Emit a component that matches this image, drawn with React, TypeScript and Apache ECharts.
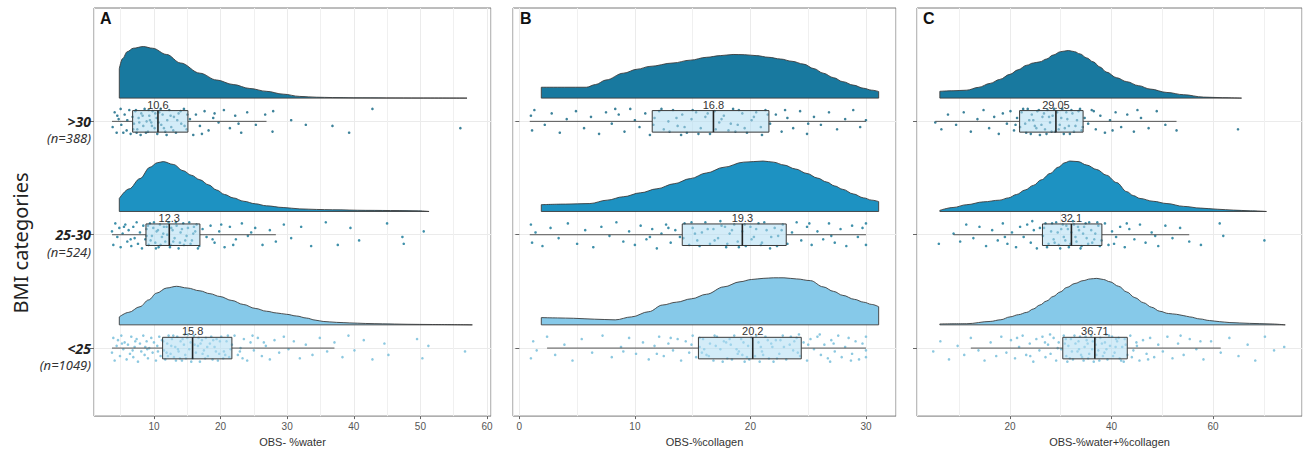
import React, { useEffect, useRef } from 'react';
import * as echarts from 'echarts';

// ---------- data ----------
const categories = ['<25', '25-30', '>30'];
const categoryY = [1, 2, 3];
const nLabels = ['(n=1049)', '(n=524)', '(n=388)'];
const panelLetters = ['A', 'B', 'C'];
const xTitles = ['OBS- %water', 'OBS-%collagen', 'OBS-%water+%collagen'];
const yTitle = 'BMI categories';

// [lower whisker, Q1, median, Q3, upper whisker]; order <25, 25-30, >30
const waterBox = [[3.7, 11.3, 15.8, 21.7, 37.1], [3.7, 8.8, 12.3, 16.9, 28.3], [3.7, 6.8, 10.6, 15.1, 26.9]];
const collagenBox = [[2.4, 15.5, 20.2, 24.4, 30.0], [0.9, 14.1, 19.3, 23.1, 30.0], [0.9, 11.5, 16.8, 21.6, 30.0]];
const sumBox = [[12.3, 30.4, 36.71, 43.1, 61.5], [8.9, 26.4, 32.1, 38.1, 55.3], [5.3, 21.9, 29.05, 34.4, 52.8]];

// density curves [x, scaled density]
const waterDens25 = [[4.8,0.07],[6.2,0.11],[7.9,0.16],[9.2,0.22],[10.4,0.28],[11.9,0.325],[13.4,0.34],[15.0,0.325],[16.9,0.3],[18.4,0.275],[19.9,0.25],[21.7,0.215],[23.4,0.18],[25.2,0.145],[26.9,0.12],[28.4,0.105],[29.9,0.093],[31.4,0.078],[32.9,0.06],[34.2,0.042],[35.4,0.03],[37.4,0.022],[39.4,0.017],[41.8,0.012],[44.3,0.009],[48.0,0.005],[51.8,0.003],[57.8,0.0]];
const waterDens2530 = [[4.8,0.115],[6.3,0.2],[7.9,0.29],[9.4,0.39],[10.5,0.43],[11.4,0.44],[12.9,0.415],[14.4,0.36],[15.6,0.32],[16.9,0.28],[18.2,0.235],[19.4,0.19],[20.6,0.15],[21.9,0.12],[23.5,0.09],[25.2,0.068],[26.9,0.05],[29.4,0.035],[31.9,0.023],[34.4,0.018],[36.8,0.015],[41.8,0.01],[46.8,0.008],[49.5,0.006],[51.3,0.0]];
const waterDens30 = [[4.8,0.26],[5.3,0.35],[6.0,0.41],[6.9,0.44],[8.4,0.455],[9.8,0.44],[11.9,0.385],[14.0,0.31],[16.9,0.22],[19.4,0.16],[21.9,0.12],[24.4,0.085],[26.9,0.06],[29.4,0.035],[31.9,0.015],[34.4,0.008],[36.8,0.005],[40.0,0.003],[44.9,0.002],[50.0,0.001],[57.0,0.0]];
const collagenDens25 = [[1.9,0.064],[3.3,0.061],[4.7,0.058],[6.5,0.05],[8.3,0.044],[9.7,0.07],[11.2,0.116],[12.4,0.175],[13.6,0.2],[14.9,0.23],[16.2,0.27],[17.7,0.335],[19.1,0.38],[20.1,0.4],[21.1,0.41],[22.0,0.415],[22.9,0.415],[24.0,0.405],[25.2,0.39],[26.3,0.335],[27.2,0.295],[28.0,0.26],[29.0,0.225],[29.8,0.2],[30.5,0.18],[31.1,0.16]];
const collagenDens2530 = [[1.9,0.06],[4.0,0.065],[6.1,0.07],[7.6,0.1],[9.0,0.13],[10.5,0.165],[11.9,0.2],[13.4,0.245],[14.8,0.29],[16.2,0.34],[17.7,0.39],[19.4,0.435],[21.1,0.445],[22.0,0.435],[22.9,0.41],[23.9,0.375],[24.9,0.335],[25.8,0.295],[26.6,0.26],[27.3,0.225],[28.0,0.195],[28.9,0.155],[29.8,0.12],[30.5,0.1],[31.1,0.087]];
const collagenDens30 = [[1.9,0.096],[3.9,0.096],[5.8,0.096],[6.6,0.12],[7.5,0.16],[9.0,0.22],[10.2,0.255],[11.3,0.28],[13.3,0.31],[14.8,0.335],[16.2,0.36],[17.4,0.375],[18.5,0.385],[19.5,0.383],[20.5,0.375],[21.6,0.36],[22.6,0.345],[23.6,0.325],[24.6,0.3],[25.5,0.26],[26.3,0.22],[27.2,0.18],[28.0,0.145],[28.9,0.115],[29.8,0.087],[30.5,0.07],[31.1,0.058]];
const sumDens25 = [[6.2,0.008],[11.5,0.01],[16.1,0.03],[18.2,0.045],[20.0,0.07],[21.7,0.09],[23.3,0.11],[24.6,0.14],[25.9,0.175],[27.2,0.21],[28.5,0.25],[29.9,0.29],[31.2,0.33],[32.8,0.365],[34.4,0.39],[35.8,0.405],[37.1,0.41],[38.4,0.4],[39.7,0.38],[41.4,0.34],[43.0,0.29],[44.6,0.24],[46.3,0.195],[47.9,0.155],[49.5,0.12],[51.2,0.1],[52.8,0.093],[54.1,0.082],[55.4,0.07],[57.4,0.052],[59.3,0.038],[61.3,0.028],[63.3,0.02],[67.2,0.013],[71.2,0.008],[74.2,0.0]];
const sumDens2530 = [[6.2,0.01],[8.8,0.035],[11.5,0.06],[14.8,0.085],[18.0,0.1],[19.7,0.12],[21.3,0.15],[23.0,0.19],[24.6,0.23],[26.2,0.28],[27.9,0.335],[29.5,0.39],[30.8,0.43],[31.8,0.445],[33.4,0.44],[35.1,0.41],[37.1,0.37],[39.0,0.32],[41.0,0.255],[43.0,0.175],[44.3,0.14],[45.6,0.115],[48.2,0.09],[50.9,0.07],[54.2,0.045],[57.5,0.03],[60.8,0.02],[64.0,0.012],[67.3,0.006],[70.5,0.0]];
const sumDens30 = [[6.2,0.06],[8.8,0.065],[11.5,0.07],[13.8,0.095],[16.1,0.13],[18.0,0.165],[20.0,0.21],[21.6,0.25],[23.3,0.29],[24.6,0.31],[25.9,0.32],[27.2,0.345],[28.5,0.38],[30.0,0.41],[31.5,0.42],[32.7,0.41],[33.8,0.39],[35.1,0.355],[36.4,0.32],[37.7,0.275],[39.0,0.23],[41.0,0.18],[43.0,0.145],[45.3,0.11],[47.6,0.08],[50.9,0.05],[54.2,0.03],[58.1,0.009],[61.8,0.004],[65.6,0.0]];

// jittered observations [x, vertical jitter in hundredths of a category step]
const waterPts25 = [[3.7,-4],[3.9,9],[4.1,-11],[4.4,2],[4.6,7],[4.9,-7],[5.1,11],[5.4,-1],[5.6,5],[5.9,-10],[6.1,3],[6.4,-5],[6.6,10],[6.9,-8],[7.1,1],[7.4,8],[7.6,-12],[7.9,4],[8.1,-3],[8.4,11],[8.6,-6],[8.9,6],[9.1,-9],[9.3,0],[9.6,9],[9.8,-4],[10.0,5],[10.3,-11],[10.5,2],[10.8,10],[11.0,-7],[11.2,7],[11.5,-2],[11.7,-10],[12.0,4],[12.2,11],[12.5,-5],[12.7,8],[13.0,-8],[13.2,1],[13.5,10],[13.7,-3],[14.0,6],[14.2,-11],[14.5,3],[14.7,-6],[15.0,9],[15.3,-1],[15.5,5],[15.8,-9],[16.0,11],[16.3,-4],[16.6,2],[16.9,-12],[17.2,7],[17.5,-2],[17.8,9],[18.1,-7],[18.4,4],[18.8,-10],[19.1,1],[19.4,8],[19.8,-5],[20.1,10],[20.5,-3],[20.9,6],[21.3,-8],[21.7,3],[22.1,11],[22.6,-6],[23.0,0],[23.5,8],[24.0,-11],[24.5,5],[25.0,-2],[25.6,9],[26.2,-7],[26.8,2],[27.4,-10],[28.1,7],[28.8,-4],[29.5,10],[30.2,-1],[31.0,6],[31.9,-9],[32.8,3],[33.8,-6],[34.9,9],[36.0,-3],[37.1,5],[38.3,-8],[39.2,11],[40.1,-2],[41.5,7],[42.8,-10],[44.6,4],[45.2,-6],[49.5,8],[50.3,-9],[51.2,2],[56.7,-3],[9.0,-1],[13.9,-9],[17.0,4],[11.9,-4],[19.6,-11],[15.1,12],[7.2,6],[22.9,-3],[11.4,6],[12.1,-7],[12.9,11],[13.6,-1],[14.3,8],[14.8,-9],[15.6,-12],[16.1,3],[16.7,9],[17.3,-5],[18.0,1],[18.6,10],[19.3,-3],[19.9,6],[20.4,-9],[21.1,11],[21.5,-1],[12.6,2],[13.3,-11],[14.6,12],[17.7,-9],[18.9,7],[20.7,-6],[10.6,-3],[23.3,-9],[24.8,11],[26.5,5],[8.7,1],[6.8,-2],[5.2,4]];
const waterPts2530 = [[3.7,3],[3.9,-9],[4.2,10],[4.5,-2],[4.8,6],[5.0,-11],[5.3,1],[5.7,9],[6.0,-6],[6.2,4],[6.6,-10],[6.9,7],[7.1,-3],[7.4,11],[7.6,-8],[7.9,2],[8.2,-12],[8.4,8],[8.7,-4],[8.9,5],[9.2,-9],[9.4,10],[9.7,-1],[9.9,6],[10.2,-7],[10.4,3],[10.7,-11],[10.9,9],[11.2,-2],[11.5,7],[11.7,-6],[12.0,0],[12.2,11],[12.5,-9],[12.8,4],[13.1,-3],[13.4,8],[13.7,-12],[14.0,2],[14.4,10],[14.7,-5],[15.1,6],[15.5,-8],[15.9,1],[16.4,9],[16.8,-10],[17.3,5],[17.9,-2],[18.5,8],[19.1,-7],[19.8,3],[20.6,-11],[21.4,7],[22.3,-4],[23.2,10],[24.1,-1],[25.2,6],[26.3,-9],[27.4,4],[28.3,-6],[29.5,9],[30.6,-3],[32.1,7],[33.6,-10],[35.8,11],[37.6,-9],[39.5,6],[40.8,-5],[45.0,10],[47.3,-2],[47.5,-8],[50.5,3],[8.9,-1],[9.5,-5],[10.0,11],[10.6,4],[11.0,-9],[11.4,1],[11.9,7],[12.4,-11],[12.9,-6],[13.3,11],[13.9,-7],[14.2,5],[14.9,-1],[15.3,11],[15.7,-5],[16.2,3],[16.6,-12],[9.1,8],[10.3,-12],[12.6,6],[14.5,-9],[16.0,7],[18.8,-4],[20.1,9],[6.5,-4],[5.5,7],[21.9,-9],[24.6,2]];
const waterPts30 = [[3.8,-5],[4.1,8],[4.4,-10],[4.7,2],[5.0,11],[5.1,-3],[5.6,6],[5.9,-8],[6.0,1],[6.3,10],[6.5,-11],[6.8,4],[7.0,-2],[7.2,9],[7.5,-7],[7.7,3],[8.0,-12],[8.1,7],[8.4,-4],[8.6,11],[8.9,0],[9.1,-9],[9.3,5],[9.6,-1],[9.8,9],[10.1,-6],[10.4,3],[10.5,-11],[10.8,8],[11.1,-3],[11.3,6],[11.7,-9],[12.0,1],[12.3,10],[12.6,-5],[13.0,4],[13.3,-10],[13.7,7],[14.1,-2],[14.5,11],[14.9,-7],[15.4,2],[15.9,-12],[16.3,6],[16.9,-4],[17.6,9],[18.2,-8],[18.9,3],[19.7,-1],[20.5,10],[21.4,-6],[22.2,5],[23.1,-10],[24.0,8],[25.3,-3],[26.7,6],[27.8,-9],[27.9,9],[30.6,1],[32.8,-3],[36.8,-4],[39.3,-10],[42.8,11],[56.0,-6],[6.9,-7],[7.3,10],[7.8,-1],[8.3,5],[8.8,-10],[9.2,10],[9.7,-4],[10.2,7],[10.7,-1],[11.0,11],[11.5,-6],[11.9,-12],[12.5,5],[12.9,-8],[13.5,1],[14.0,9],[14.6,-4],[15.0,6],[7.4,-10],[9.4,1],[4.5,5],[5.4,-10],[17.2,-11],[19.1,7],[22.7,-2]];

const collagenPts25 = [[1.0,-9],[1.2,6],[1.5,-2],[2.4,10],[3.1,-6],[3.9,3],[4.6,-11],[5.4,8],[6.3,-4],[7.2,11],[8.0,-8],[8.8,1],[9.5,9],[10.1,-5],[10.7,5],[11.2,-10],[11.7,2],[12.1,10],[12.5,-7],[12.9,4],[13.3,-2],[13.7,8],[14.0,-11],[14.4,6],[14.7,-4],[15.0,11],[15.3,-8],[15.6,1],[15.9,8],[16.2,-6],[16.5,4],[16.8,-11],[17.1,10],[17.4,-1],[17.7,6],[18.0,-9],[18.3,3],[18.6,11],[18.9,-5],[19.2,8],[19.5,-12],[19.8,2],[20.1,9],[20.4,-7],[20.7,5],[21.0,-3],[21.3,10],[21.6,-9],[21.9,1],[22.2,7],[22.5,-5],[22.8,11],[23.1,-10],[23.4,3],[23.7,-2],[24.0,9],[24.3,-7],[24.6,5],[24.9,-11],[25.2,8],[25.5,-1],[25.8,10],[26.1,-6],[26.4,3],[26.7,-9],[27.0,7],[27.3,-3],[27.6,11],[27.9,-8],[28.2,1],[28.5,9],[28.8,-5],[29.1,6],[29.4,-10],[29.7,4],[30.0,-2],[30.0,10],[30.0,-8],[17.9,5],[19.0,-3],[20.9,1],[22.0,-12],[23.8,6],[16.0,-1],[25.0,3],[21.5,7],[19.7,-8],[18.4,-10],[14.9,3],[13.1,9],[26.9,-12],[24.2,12],[15.6,9],[16.4,-7],[17.0,2],[17.6,-12],[18.2,8],[18.8,-1],[19.4,5],[19.9,-10],[20.5,11],[21.1,-6],[21.8,4],[22.3,-9],[22.9,1],[23.5,10],[24.1,-4],[16.9,11],[19.3,-6],[20.8,-12],[22.6,7],[15.8,-4],[11.9,-5],[9.0,-3],[27.2,4],[28.7,-11],[26.0,12]];
const collagenPts2530 = [[1.0,9],[1.1,-7],[1.4,2],[2.0,-10],[2.7,6],[3.4,-3],[4.2,10],[5.0,-8],[5.7,4],[6.4,-11],[7.1,7],[7.8,-1],[8.4,11],[9.0,-6],[9.5,3],[10.0,-9],[10.5,8],[11.0,-4],[11.5,5],[11.9,-12],[12.3,1],[12.7,9],[13.1,-7],[13.5,4],[13.9,-2],[14.3,10],[14.7,-9],[15.0,6],[15.4,-5],[15.8,2],[16.1,11],[16.5,-8],[16.8,5],[17.2,-3],[17.5,8],[17.9,-11],[18.2,1],[18.6,9],[18.9,-6],[19.3,3],[19.6,-10],[20.0,7],[20.3,-2],[20.7,10],[21.0,-7],[21.4,4],[21.7,-12],[22.1,6],[22.4,-1],[22.8,9],[23.2,-8],[23.6,2],[24.0,11],[24.4,-5],[24.9,7],[25.3,-9],[25.8,3],[26.3,-4],[26.8,10],[27.3,-7],[27.8,5],[28.3,-10],[28.8,8],[29.3,-2],[29.7,6],[30.0,-9],[30.0,10],[14.2,-3],[14.9,11],[15.6,-10],[16.3,5],[16.9,-5],[17.4,12],[18.0,-8],[18.4,4],[19.0,-11],[19.5,9],[20.1,-4],[20.5,5],[21.2,11],[21.8,-2],[22.3,-10],[22.7,4],[15.2,1],[17.8,7],[20.9,-9],[12.9,6],[11.3,-2],[25.1,10],[27.0,-1]];
const collagenPts30 = [[1.0,5],[1.1,-8],[1.3,10],[2.2,-3],[2.8,7],[3.5,-10],[4.1,2],[4.9,9],[5.6,-6],[6.2,4],[6.9,-11],[7.5,8],[8.0,-2],[8.6,6],[9.1,-9],[9.6,11],[10.0,1],[10.4,-5],[10.9,7],[11.3,-12],[11.7,3],[12.1,9],[12.5,-7],[12.9,0],[13.3,10],[13.7,-4],[14.1,6],[14.5,-10],[14.9,2],[15.3,8],[15.7,-6],[16.1,4],[16.5,-11],[16.9,9],[17.3,-1],[17.7,5],[18.1,-8],[18.5,11],[18.9,-3],[19.3,7],[19.7,-10],[20.1,1],[20.5,8],[20.9,-5],[21.3,10],[21.7,-2],[22.2,6],[22.7,-9],[23.2,3],[23.7,-6],[24.3,9],[24.9,-11],[25.5,4],[26.1,-3],[26.8,8],[27.5,-7],[28.2,2],[28.9,10],[29.5,-5],[30.0,1],[11.6,-3],[12.3,11],[13.0,-9],[13.6,3],[14.3,-5],[15.0,10],[15.5,-11],[16.3,7],[17.0,-7],[17.5,2],[18.3,-2],[19.0,10],[19.5,-6],[20.3,4],[21.0,-12],[21.5,6],[14.0,-12],[18.7,-9],[23.0,10],[25.0,-2],[8.3,11]];

const sumPts25 = [[4.9,-3],[6.3,6],[8.0,-10],[9.7,2],[11.0,-6],[12.3,9],[13.8,-2],[15.0,-11],[16.2,5],[17.3,-7],[18.3,10],[19.3,-4],[20.2,7],[21.0,-9],[21.8,1],[22.5,11],[23.2,-6],[23.9,4],[24.6,-12],[25.2,8],[25.8,-2],[26.4,10],[27.0,-8],[27.5,3],[28.0,-5],[28.6,9],[29.1,-11],[29.6,5],[30.1,-1],[30.6,11],[31.1,-7],[31.5,2],[32.0,8],[32.4,-10],[32.9,4],[33.3,-3],[33.8,10],[34.2,-8],[34.7,1],[35.1,7],[35.6,-5],[36.0,11],[36.5,-12],[36.9,3],[37.4,-2],[37.8,9],[38.3,-7],[38.7,5],[39.2,-10],[39.7,2],[40.1,10],[40.6,-4],[41.1,6],[41.6,-9],[42.1,1],[42.6,8],[43.1,-6],[43.7,11],[44.3,-2],[44.9,5],[45.5,-11],[46.2,7],[46.9,-5],[47.6,9],[48.4,-8],[49.2,3],[50.1,-3],[51.0,10],[52.0,-9],[53.1,4],[54.2,-6],[55.4,8],[56.7,-1],[58.1,-10],[59.6,6],[61.5,-4],[63.2,9],[65.0,-7],[66.8,3],[68.3,-11],[70.2,10],[72.0,-2],[74.0,1],[34.5,-11],[38.9,12],[31.8,-9],[40.9,8],[36.3,6],[29.4,0],[44.0,-8],[27.9,12],[33.6,-1],[42.4,-12],[37.0,-6],[35.3,4],[30.8,4],[31.3,-12],[32.2,-3],[32.7,11],[33.5,6],[34.0,-6],[34.9,10],[35.4,-9],[36.2,-1],[36.8,8],[37.6,-11],[38.1,4],[38.6,-4],[39.5,11],[40.3,-7],[40.8,1],[41.4,9],[41.9,-11],[42.8,3],[31.0,8],[39.0,-1],[45.0,2],[47.2,-10],[26.9,5],[24.0,-7],[53.6,11],[57.5,6],[21.4,9]];
const sumPts2530 = [[6.0,-8],[8.9,1],[10.2,-6],[11.4,9],[12.8,-3],[14.0,7],[15.3,-10],[16.5,4],[17.6,-5],[18.6,10],[19.5,-8],[20.4,2],[21.2,-11],[22.0,7],[22.7,-2],[23.4,9],[24.1,-7],[24.7,4],[25.3,-12],[25.9,6],[26.5,-1],[27.0,10],[27.6,-8],[28.1,3],[28.6,-4],[29.1,11],[29.6,-9],[30.1,5],[30.6,-2],[31.1,8],[31.6,-11],[32.1,2],[32.6,9],[33.1,-6],[33.6,4],[34.1,-10],[34.6,7],[35.1,-3],[35.6,11],[36.2,-7],[36.8,1],[37.4,8],[38.0,-5],[38.7,10],[39.4,-9],[40.1,3],[40.9,-2],[41.7,7],[42.6,-11],[43.5,5],[44.5,-4],[45.6,9],[46.7,-7],[47.9,2],[49.2,-10],[50.6,8],[52.0,-3],[53.5,6],[55.3,-6],[57.6,-9],[61.3,10],[62.0,-1],[70.1,-5],[26.7,6],[27.3,-11],[28.3,10],[28.8,-7],[29.4,2],[29.9,-12],[30.4,9],[30.9,-5],[31.4,5],[31.9,-8],[32.4,12],[32.9,-2],[33.4,7],[33.9,-12],[34.4,1],[34.9,10],[35.4,-8],[36.0,4],[36.6,-4],[37.2,11],[37.7,-10],[24.4,12],[40.5,-8],[43.0,10],[48.6,-1],[19.0,-2]];
const sumPts30 = [[5.3,-1],[6.5,-7],[7.8,6],[9.4,-3],[10.9,8],[12.3,-9],[13.6,2],[14.8,10],[15.9,-6],[16.9,4],[17.8,-11],[18.6,7],[19.4,-2],[20.1,9],[20.8,-8],[21.4,3],[22.0,-5],[22.6,11],[23.2,-10],[23.8,1],[24.3,6],[24.9,-4],[25.4,9],[25.9,-12],[26.4,4],[26.9,-7],[27.4,10],[27.9,-1],[28.4,5],[28.9,-9],[29.3,8],[29.8,-3],[30.3,11],[30.8,-6],[31.3,2],[31.8,-11],[32.3,7],[32.9,-4],[33.5,9],[34.1,-8],[34.7,3],[35.4,-2],[36.1,10],[36.9,-7],[37.8,5],[38.7,-10],[39.7,1],[40.8,8],[41.9,-5],[43.1,6],[44.4,-9],[45.8,3],[47.3,-6],[48.9,9],[50.6,-3],[52.8,-8],[64.9,-7],[22.3,8],[23.0,-2],[23.5,11],[24.1,-11],[24.6,1],[25.2,-6],[25.7,10],[26.2,-3],[26.7,7],[27.2,-11],[27.7,4],[28.2,-9],[28.7,11],[29.6,-7],[30.1,3],[30.6,-11],[31.1,8],[31.6,-4],[32.1,10],[32.6,-9],[33.2,1],[33.8,11],[34.3,-5],[21.1,-3],[36.5,9],[40.2,-8],[45.1,10]];

// ---------- styling / layout ----------
const DENS_BASE = 0.205;
const BOX_HALF = 0.095;
const JITTER_STEP = 0.01;
const densColors = ['#86c9e9', '#1d92c2', '#18799f'];
const pointColors = ['#7fc2dd', '#2a84a1', '#28748f'];
const FONT = 'Liberation Sans';
const LABEL_FONT = 'Noto Sans';

const panels = [
  { box: waterBox, dens: [waterDens25, waterDens2530, waterDens30], pts: [waterPts25, waterPts2530, waterPts30],
    grid: { left: 94, top: 8, width: 397, height: 412 }, xMin: 1.0, xMax: 60.6, split: 5, letterX: 100 },
  { box: collagenBox, dens: [collagenDens25, collagenDens2530, collagenDens30], pts: [collagenPts25, collagenPts2530, collagenPts30],
    grid: { left: 513, top: 8, width: 383, height: 412 }, xMin: -0.55, xMax: 32.6, split: 3, letterX: 520 },
  { box: sumBox, dens: [sumDens25, sumDens2530, sumDens30], pts: [sumPts25, sumPts2530, sumPts30],
    grid: { left: 917, top: 8, width: 385, height: 412 }, xMin: 1.7, xMax: 77.5, split: 4, letterX: 923 },
];

function buildOption() {
  const grid: any[] = [];
  const xAxis: any[] = [];
  const yAxis: any[] = [];
  const series: any[] = [];
  const title: any[] = [];

  panels.forEach((p, i) => {
    grid.push({ ...p.grid, show: true, borderColor: '#7a7a7a', borderWidth: 1, backgroundColor: '#fff' });
    title.push({ text: panelLetters[i], left: p.letterX, top: 10, padding: 0,
      textStyle: { fontSize: 16, fontWeight: 'bold', color: '#111', fontFamily: FONT } });
    xAxis.push({
      gridIndex: i, type: 'value', min: p.xMin, max: p.xMax, splitNumber: p.split,
      name: xTitles[i], nameLocation: 'middle', nameGap: 16,
      nameTextStyle: { fontSize: 11, color: '#333', fontFamily: FONT },
      axisLine: { show: false },
      axisTick: { show: true, length: 3, lineStyle: { color: '#666' } },
      axisLabel: { showMinLabel: false, showMaxLabel: false, fontSize: 10, color: '#555', margin: 5, fontFamily: FONT },
      splitLine: { show: true, lineStyle: { color: '#ebebeb', width: 1 } },
      minorTick: { show: false, splitNumber: 2 },
      minorSplitLine: { show: true, lineStyle: { color: '#f0f0f0', width: 1 } },
    });
    yAxis.push({
      gridIndex: i, type: 'value', min: 0.4, max: 4.0,
      axisLine: { show: false },
      axisTick: { show: true, length: 4, customValues: categoryY, lineStyle: { color: '#666' } },
      axisLabel: {
        show: i === 0, customValues: categoryY, margin: 3,
        formatter: (v: number) => {
          const k = categoryY.indexOf(v);
          if (k < 0) return '';
          return `{e| }\n{b|${categories[k]}}\n{n|${nLabels[k]}}`;
        },
        rich: {
          e: { fontSize: 13, lineHeight: 17, fontFamily: LABEL_FONT },
          b: { fontSize: 14, lineHeight: 17, fontWeight: 'bold', fontStyle: 'italic', color: '#222', fontFamily: LABEL_FONT, align: 'right' },
          n: { fontSize: 13, lineHeight: 17, fontStyle: 'italic', color: '#333', fontFamily: LABEL_FONT, align: 'right' },
        },
      },
      splitLine: { show: true, lineStyle: { color: '#ebebeb', width: 1 } },
      minorSplitLine: { show: false },
    });

    for (let g = 0; g < 3; g++) {
      const dens = p.dens[g];
      const base = categoryY[g] + DENS_BASE;
      series.push({
        type: 'line', xAxisIndex: i, yAxisIndex: i, silent: true, z: 2,
        showSymbol: false, smooth: 0.35, smoothMonotone: 'x',
        data: dens.map(([x, h]) => [x, base + h]),
        lineStyle: { color: '#3c3c3c', width: 0.9 },
        areaStyle: { origin: base, color: densColors[g], opacity: 1 },
      });
      series.push({
        type: 'custom', xAxisIndex: i, yAxisIndex: i, silent: true, z: 3,
        data: [[dens[0][0], base]],
        renderItem: (params: any, api: any) => {
          const first = dens[0];
          const last = dens[dens.length - 1];
          const pts = [
            api.coord([first[0], base + first[1]]),
            api.coord([first[0], base]),
            api.coord([last[0], base]),
            api.coord([last[0], base + last[1]]),
          ];
          return { type: 'polyline', shape: { points: pts }, style: { stroke: '#3c3c3c', lineWidth: 0.9, fill: 'none' } };
        },
      });
      series.push({
        type: 'scatter', xAxisIndex: i, yAxisIndex: i, silent: true, z: 4,
        symbolSize: 2.6,
        data: p.pts[g].map(([x, j]) => [x, categoryY[g] + j * JITTER_STEP]),
        itemStyle: { color: pointColors[g], opacity: 0.9 },
      });
    }
    series.push({
      type: 'custom', xAxisIndex: i, yAxisIndex: i, silent: true, z: 5,
      data: p.box.map((b, g) => [categoryY[g], ...b]),
      encode: { x: [1, 2, 3, 4, 5], y: 0 },
      renderItem: (params: any, api: any) => {
        const y = api.value(0);
        const lo = api.coord([api.value(1), y]);
        const q1 = api.coord([api.value(2), y]);
        const md = api.coord([api.value(3), y]);
        const q3 = api.coord([api.value(4), y]);
        const hi = api.coord([api.value(5), y]);
        const top = api.coord([api.value(2), y + BOX_HALF])[1];
        const bot = api.coord([api.value(2), y - BOX_HALF])[1];
        const stroke = '#3a3a3a';
        return {
          type: 'group',
          children: [
            { type: 'line', shape: { x1: lo[0], y1: lo[1], x2: q1[0], y2: q1[1] }, style: { stroke: '#555', lineWidth: 1 } },
            { type: 'line', shape: { x1: q3[0], y1: q3[1], x2: hi[0], y2: hi[1] }, style: { stroke: '#555', lineWidth: 1 } },
            { type: 'rect', shape: { x: q1[0], y: top, width: q3[0] - q1[0], height: bot - top },
              style: { fill: 'rgba(175,221,242,0.55)', stroke, lineWidth: 1 } },
            { type: 'line', shape: { x1: md[0], y1: top, x2: md[0], y2: bot }, style: { stroke: '#222', lineWidth: 1.6 } },
            { type: 'text', x: md[0], y: top - 0.5,
              style: { text: String(api.value(3)), align: 'center', verticalAlign: 'bottom', fontSize: 11, fill: '#333', fontFamily: FONT } },
          ],
        };
      },
    });
  });

  return {
    animation: false,
    textStyle: { fontFamily: FONT },
    title,
    grid,
    xAxis,
    yAxis,
    series,
    graphic: [
      { type: 'text', x: 20, y: 243, rotation: Math.PI / 2,
        style: { text: yTitle, fontSize: 20, fill: '#222', align: 'center', verticalAlign: 'middle', fontFamily: LABEL_FONT } },
    ],
  };
}

export default function App() {
  const ref = useRef<HTMLDivElement>(null);
  useEffect(() => {
    document.body.style.margin = '0';
    const chart = echarts.init(ref.current!, null, { renderer: 'svg' });
    chart.setOption(buildOption() as any);
    return () => chart.dispose();
  }, []);
  return <div ref={ref} style={{ position: 'absolute', left: 0, top: 0, width: 1304, height: 452, background: '#fff' }} />;
}
